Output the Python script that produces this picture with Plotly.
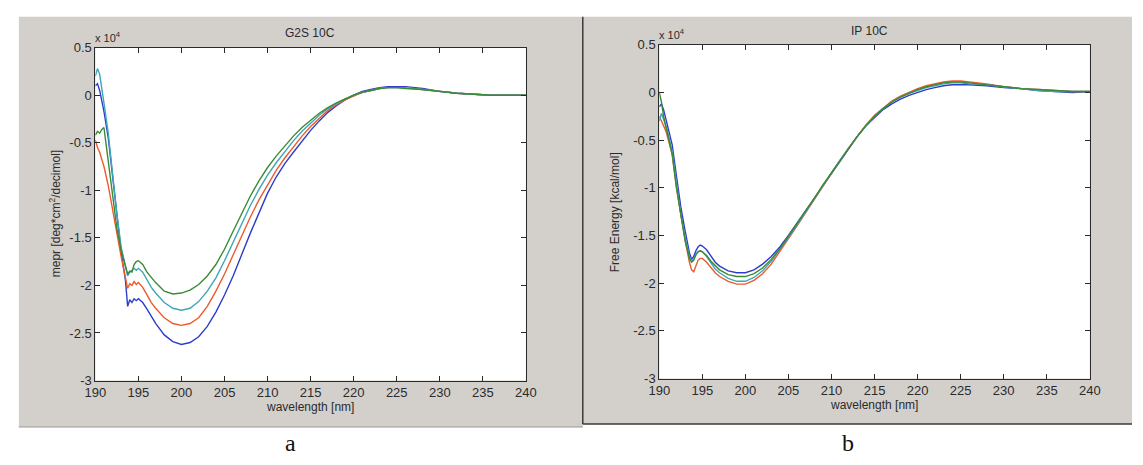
import plotly.graph_objects as go

# Shared wavelength grid (nm)
wavelength = [190, 190.25, 190.5, 190.75, 191, 191.5, 192, 192.5, 193, 193.5, 193.75,
              194, 194.25, 194.5, 194.75, 195, 195.5, 196, 196.5, 197, 198, 199, 200,
              201, 202, 203, 204, 205, 206, 207, 208, 209, 210, 211, 212, 213, 214, 215,
              216, 217, 218, 219, 220, 221, 222, 223, 224, 225, 226, 228, 230, 232, 234,
              236, 238, 240]

# Panel a: G2S 10C (units of 1e4)
g2s_blue = [0.10, 0.12, 0.05, -0.05, -0.17, -0.45, -0.85, -1.25, -1.65, -1.95, -2.22,
            -2.15, -2.18, -2.14, -2.16, -2.14, -2.18, -2.25, -2.33, -2.40, -2.52, -2.59, -2.62,
            -2.60, -2.54, -2.43, -2.28, -2.10, -1.90, -1.67, -1.45, -1.24, -1.03, -0.86, -0.72,
            -0.60, -0.48, -0.37, -0.27, -0.18, -0.11, -0.05, 0.00, 0.04, 0.06, 0.08, 0.09, 0.09,
            0.09, 0.07, 0.04, 0.02, 0.01, 0.00, 0.00, 0.00]
g2s_red = [-0.47, -0.55, -0.60, -0.68, -0.75, -0.95, -1.18, -1.45, -1.70, -1.90, -2.03,
           -1.98, -2.00, -1.96, -1.99, -1.97, -2.02, -2.10, -2.18, -2.24, -2.34, -2.40, -2.42,
           -2.40, -2.34, -2.22, -2.06, -1.88, -1.68, -1.47, -1.28, -1.10, -0.94, -0.79, -0.66,
           -0.54, -0.43, -0.33, -0.24, -0.16, -0.10, -0.05, -0.01, 0.03, 0.05, 0.07, 0.08, 0.08,
           0.08, 0.06, 0.04, 0.02, 0.01, 0.00, 0.00, 0.00]
g2s_teal = [0.20, 0.28, 0.22, 0.08, -0.08, -0.40, -0.85, -1.25, -1.60, -1.82, -1.90,
            -1.86, -1.84, -1.82, -1.84, -1.82, -1.86, -1.94, -2.02, -2.08, -2.18, -2.24, -2.26,
            -2.24, -2.17, -2.06, -1.92, -1.74, -1.55, -1.35, -1.16, -0.99, -0.84, -0.71, -0.59,
            -0.48, -0.38, -0.29, -0.21, -0.14, -0.09, -0.04, 0.00, 0.03, 0.05, 0.07, 0.08, 0.08,
            0.08, 0.06, 0.04, 0.02, 0.01, 0.00, 0.00, 0.00]
g2s_green = [-0.42, -0.38, -0.40, -0.36, -0.34, -0.70, -1.10, -1.40, -1.63, -1.80, -1.88,
             -1.85, -1.86, -1.78, -1.75, -1.74, -1.78, -1.86, -1.92, -1.97, -2.06, -2.09, -2.08,
             -2.05, -1.99, -1.90, -1.78, -1.62, -1.43, -1.24, -1.06, -0.90, -0.76, -0.64, -0.53,
             -0.43, -0.34, -0.26, -0.19, -0.13, -0.08, -0.04, 0.00, 0.03, 0.05, 0.07, 0.08, 0.08,
             0.07, 0.06, 0.04, 0.02, 0.01, 0.00, 0.00, 0.00]

# Panel b: IP 10C (units of 1e4)
ip_blue = [-0.15, -0.12, -0.18, -0.28, -0.38, -0.55, -0.88, -1.20, -1.45, -1.68, -1.75,
           -1.72, -1.66, -1.62, -1.60, -1.61, -1.65, -1.72, -1.78, -1.82, -1.87, -1.89, -1.89,
           -1.86, -1.80, -1.72, -1.62, -1.50, -1.37, -1.24, -1.10, -0.97, -0.84, -0.71, -0.58,
           -0.46, -0.35, -0.26, -0.18, -0.12, -0.07, -0.03, 0.00, 0.03, 0.05, 0.07, 0.08, 0.08,
           0.08, 0.07, 0.05, 0.04, 0.02, 0.01, 0.00, 0.01]
ip_red = [-0.25, -0.30, -0.35, -0.40, -0.48, -0.65, -1.00, -1.30, -1.55, -1.78, -1.86,
          -1.88, -1.82, -1.76, -1.74, -1.74, -1.78, -1.84, -1.89, -1.93, -1.98, -2.01, -2.01,
          -1.97, -1.90, -1.80, -1.67, -1.54, -1.40, -1.26, -1.12, -0.98, -0.84, -0.71, -0.58,
          -0.46, -0.34, -0.24, -0.16, -0.09, -0.04, 0.00, 0.04, 0.07, 0.09, 0.11, 0.12, 0.12,
          0.11, 0.09, 0.06, 0.04, 0.03, 0.02, 0.01, 0.01]
ip_teal = [-0.30, -0.22, -0.28, -0.34, -0.42, -0.62, -0.97, -1.28, -1.52, -1.72, -1.77,
           -1.75, -1.70, -1.67, -1.66, -1.67, -1.72, -1.79, -1.85, -1.89, -1.95, -1.98, -1.98,
           -1.94, -1.87, -1.77, -1.65, -1.52, -1.39, -1.25, -1.11, -0.97, -0.84, -0.71, -0.58,
           -0.46, -0.35, -0.25, -0.17, -0.10, -0.05, -0.01, 0.02, 0.05, 0.07, 0.09, 0.10, 0.10,
           0.09, 0.08, 0.06, 0.04, 0.02, 0.01, 0.01, 0.01]
ip_green = [0.00, -0.10, -0.25, -0.35, -0.45, -0.65, -1.00, -1.30, -1.55, -1.74, -1.78,
            -1.76, -1.70, -1.67, -1.66, -1.67, -1.71, -1.77, -1.82, -1.86, -1.91, -1.93, -1.93,
            -1.90, -1.84, -1.75, -1.64, -1.51, -1.38, -1.25, -1.11, -0.97, -0.84, -0.71, -0.58,
            -0.46, -0.35, -0.25, -0.17, -0.10, -0.05, -0.01, 0.03, 0.06, 0.08, 0.10, 0.11, 0.11,
            0.10, 0.08, 0.06, 0.04, 0.03, 0.02, 0.01, 0.01]

x_ticks = [190, 195, 200, 205, 210, 215, 220, 225, 230, 235, 240]
y_ticks = [0.5, 0, -0.5, -1, -1.5, -2, -2.5, -3]
y_ticktext = ["0.5", "0", "-0.5", "-1", "-1.5", "-2", "-2.5", "-3"]

W, H = 1143, 465
BLUE, RED, TEAL, GREEN = "#2e3ccc", "#ee5a2c", "#3ea6b6", "#3b8a34"
PANEL = "#d3d0cb"
INK = "#2b2b2b"
FONT = "Liberation Sans"


def px(x):
    return x / W


def py(y):
    return 1 - y / H


fig = go.Figure()

panels = [
    ("x", "y", [g2s_blue, g2s_red, g2s_teal, g2s_green]),
    ("x2", "y2", [ip_blue, ip_red, ip_teal, ip_green]),
]
for xa, ya, series in panels:
    for vals, col in zip(series, [BLUE, RED, TEAL, GREEN]):
        fig.add_trace(go.Scatter(x=wavelength, y=vals, xaxis=xa, yaxis=ya, mode="lines",
                                 line=dict(color=col, width=1.4), showlegend=False,
                                 hoverinfo="skip"))

# Plot-area boxes in pixels: (left, top, right, bottom)
box_a = (86, 42, 525, 386)
box_b = (661, 39, 1100, 384)

axis_common = dict(showline=True, linecolor=INK, linewidth=1, mirror="allticks",
                   ticks="inside", ticklen=5, tickcolor=INK, tickwidth=1,
                   showgrid=False, zeroline=False,
                   tickfont=dict(family=FONT, size=13, color=INK))

layout_axes = {}
for i, box in enumerate([box_a, box_b]):
    sfx = "" if i == 0 else "2"
    l, t, r, b = box
    layout_axes["xaxis" + sfx] = dict(axis_common, domain=[px(l), px(r)], range=[190, 240],
                                      tickvals=x_ticks, anchor="y" + sfx)
    layout_axes["yaxis" + sfx] = dict(axis_common, domain=[py(b), py(t)], range=[-3, 0.5],
                                      tickvals=y_ticks, ticktext=y_ticktext, anchor="x" + sfx)

shapes = [
    # grey figure windows
    dict(type="rect", xref="paper", yref="paper", x0=px(8), x1=px(583), y0=py(434), y1=py(10),
         fillcolor=PANEL, line=dict(width=0), layer="below"),
    dict(type="rect", xref="paper", yref="paper", x0=px(583), x1=1, y0=py(431), y1=py(10),
         fillcolor=PANEL, line=dict(width=0), layer="below"),
    # white plot areas
    dict(type="rect", xref="paper", yref="paper", x0=px(box_a[0]), x1=px(box_a[2]),
         y0=py(box_a[3]), y1=py(box_a[1]), fillcolor="white", line=dict(width=0), layer="below"),
    dict(type="rect", xref="paper", yref="paper", x0=px(box_b[0]), x1=px(box_b[2]),
         y0=py(box_b[3]), y1=py(box_b[1]), fillcolor="white", line=dict(width=0), layer="below"),
    # frame around the second window
    dict(type="line", xref="paper", yref="paper", x0=px(583), x1=px(583), y0=py(431), y1=py(10),
         line=dict(color="#3a3a3a", width=1.5)),
    dict(type="line", xref="paper", yref="paper", x0=px(583), x1=1, y0=py(431), y1=py(431),
         line=dict(color="#3a3a3a", width=1.5)),
    dict(type="line", xref="paper", yref="paper", x0=px(8), x1=px(583), y0=py(434), y1=py(434),
         line=dict(color="#9a9894", width=1)),
]

ann = []


def text(x, y, s, size=12, angle=0, family=FONT, color=INK, xanchor="center"):
    ann.append(dict(x=px(x), y=py(y), xref="paper", yref="paper", text=s, showarrow=False,
                    textangle=angle, xanchor=xanchor, yanchor="middle",
                    font=dict(family=family, size=size, color=color)))


text(305, 27, "G2S 10C", size=12)
text(875, 25, "IP 10C", size=12)
text(84, 31, "x 10<sup>4</sup>", size=11, xanchor="left")
text(659, 28, "x 10<sup>4</sup>", size=11, xanchor="left")
text(305, 413, "wavelength [nm]", size=12)
text(880, 411, "wavelength [nm]", size=12)
text(45, 214, "mepr [deg*cm<sup>2</sup>/decimol]", size=12, angle=-90)
text(616, 212, "Free Energy [kcal/mol]", size=12, angle=-90)
text(285, 451, "a", size=24, family="Liberation Serif", color="#111")
text(853, 451, "b", size=24, family="Liberation Serif", color="#111")

fig.update_layout(width=W, height=H, margin=dict(l=0, r=0, t=0, b=0),
                  paper_bgcolor="white", plot_bgcolor="rgba(0,0,0,0)",
                  shapes=shapes, annotations=ann, **layout_axes)

fig.write_html("out.html")
